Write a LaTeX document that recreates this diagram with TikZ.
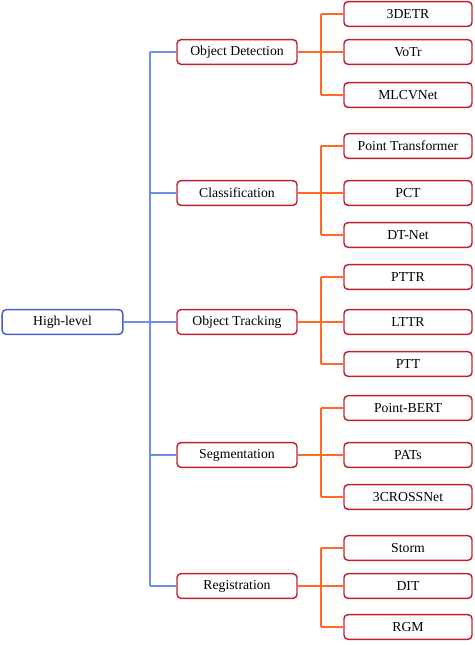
\documentclass[tikz,border=0pt]{standalone}
\usepackage{fontspec}
\setmainfont{Liberation Serif}
\usetikzlibrary{positioning}
\definecolor{rootblue}{RGB}{70,95,205}
\definecolor{lineblue}{RGB}{110,140,235}
\definecolor{boxred}{RGB}{190,35,45}
\definecolor{lineorange}{RGB}{255,105,35}
\begin{document}
\begin{tikzpicture}[
    x=0.75pt, y=-0.75pt,
    every node/.style={font=\fontsize{10.3}{12}\selectfont},
    box/.style={draw=boxred, line width=1.1pt, rounded corners=3pt, fill=white,
        minimum height=18.5pt, inner sep=0pt},
    rootbox/.style={box, draw=rootblue, minimum width=90.5pt},
    catbox/.style={box, minimum width=90pt},
    leafbox/.style={box, minimum width=96pt},
    blueline/.style={draw=lineblue, line width=1.1pt},
    orangeline/.style={draw=lineorange, line width=1.5pt}
]
\useasboundingbox (0,0) rectangle (474,645);

% root and main spine
\node[rootbox] (root) at (62.5,322) {High-level};
\coordinate (hub) at (150,322);

% categories
\node[catbox] (det) at (237,52) {Object Detection};
\node[catbox] (cls) at (237,193) {Classification};
\node[catbox] (trk) at (237,322) {Object Tracking};
\node[catbox] (seg) at (237,455) {Segmentation};
\node[catbox] (reg) at (237,586) {Registration};

\draw[blueline] (root.east) -- (hub);
\draw[blueline] (hub |- det.west) -- (hub |- reg.west);
\foreach \c in {det,cls,trk,seg,reg}
    \draw[blueline] (hub |- \c.west) -- (\c.west);

% leaves
\node[leafbox] (detr) at (408,14) {3DETR};
\node[leafbox] (votr) at (408,52) {VoTr};
\node[leafbox] (mlcv) at (408,95) {MLCVNet};

\node[leafbox] (ptf) at (408,146) {Point Transformer};
\node[leafbox] (pct) at (408,193) {PCT};
\node[leafbox] (dtn) at (408,235) {DT-Net};

\node[leafbox] (pttr) at (408,277) {PTTR};
\node[leafbox] (lttr) at (408,322) {LTTR};
\node[leafbox] (ptt) at (408,364) {PTT};

\node[leafbox] (pbert) at (408,408) {Point-BERT};
\node[leafbox] (pats) at (408,455) {PATs};
\node[leafbox] (cross) at (408,497) {3CROSSNet};

\node[leafbox] (storm) at (408,548) {Storm};
\node[leafbox] (dit) at (408,586) {DIT};
\node[leafbox] (rgm) at (408,627) {RGM};

% orange branches
\foreach \c/\a/\b/\m in {det/detr/mlcv/votr, cls/ptf/dtn/pct, trk/pttr/ptt/lttr,
    seg/pbert/cross/pats, reg/storm/rgm/dit} {
    \coordinate (\c hub) at ([xshift=17.25pt]\c.east);
    \draw[orangeline] (\c.east) -- (\c hub);
    \draw[orangeline] (\c hub |- \a.west) -- (\c hub |- \b.west);
    \foreach \l in {\a,\m,\b}
        \draw[orangeline] (\c hub |- \l.west) -- (\l.west);
}
\end{tikzpicture}
\end{document}
